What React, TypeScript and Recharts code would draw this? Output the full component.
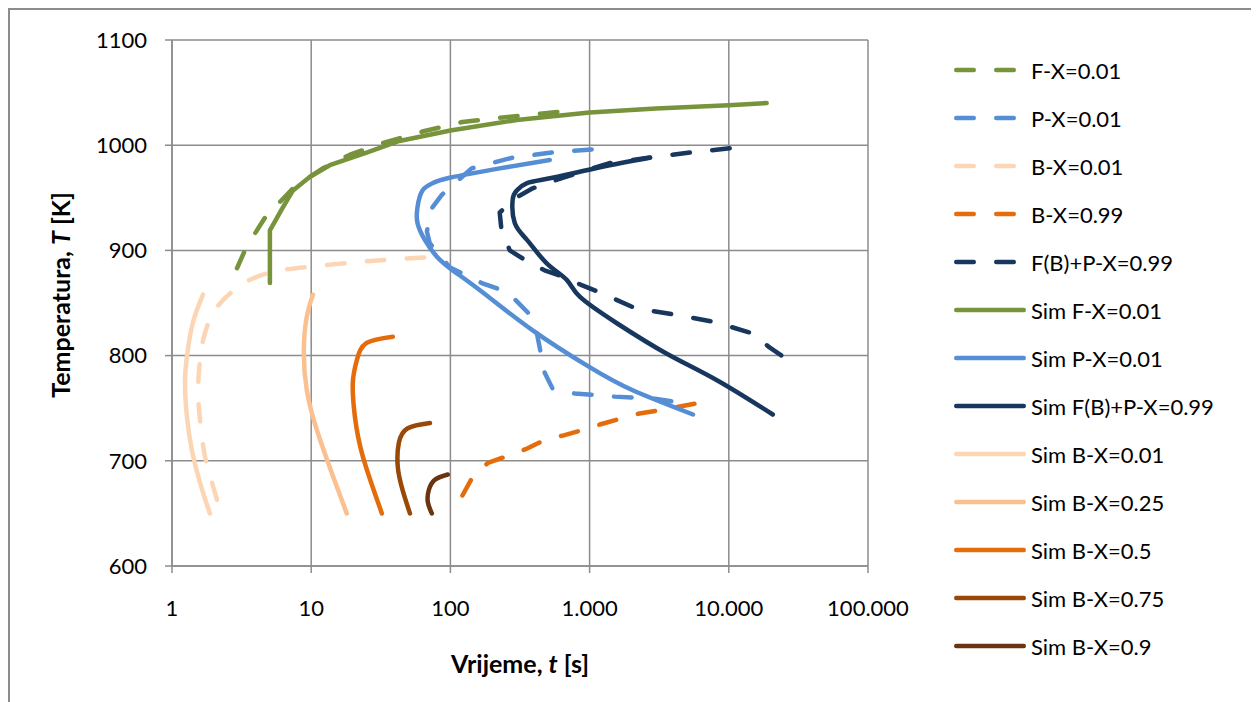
import React from 'react'
import { LineChart, Line, XAxis, YAxis, CartesianGrid, Legend, Label } from 'recharts'

// time ticks (s) and temperature ticks (K)
const xTicks = [1, 10, 100, 1000, 10000, 100000]
const yTicks = [600, 700, 800, 900, 1000, 1100]

// [t, T] pairs
const fX001: number[][] = [
  [2.93, 883], [3.34, 900], [3.94, 916], [4.65, 931], [5.96, 946], [7.4, 959], [12.1, 978],
  [19, 991], [32.6, 1002], [63, 1013], [122, 1022], [226, 1026], [440, 1030], [630, 1032],
]
const pX001: number[][] = [
  [1035, 996], [535, 993], [276, 988], [142, 978], [87, 953], [73.5, 940], [67.8, 918], [71, 907],
  [98.6, 884], [168, 869], [260, 860], [360, 841], [417, 822], [475, 784], [540, 769], [780, 764],
  [1510, 761], [2940, 759], [4090, 756],
]
const bX001: number[][] = [
  [2.1, 663], [1.94, 679], [1.72, 705], [1.59, 739], [1.54, 767], [1.59, 796], [1.72, 821],
  [2.03, 843], [2.61, 859], [3.63, 872], [5.48, 880], [9.0, 884], [18, 888], [34.8, 891], [81, 894],
]
const bX099: number[][] = [
  [122, 667], [145, 685], [186, 698], [250, 704], [347, 711], [462, 719], [642, 724], [877, 729],
  [1220, 735], [1650, 740], [2280, 745], [3170, 748], [6130, 755],
]
const fbpX099: number[][] = [
  [10140, 997], [5280, 993], [2630, 988], [1390, 983], [640, 969], [390, 959], [304, 951], [226, 936],
  [233, 919], [267, 900], [343, 891], [475, 881], [640, 875], [877, 867], [1190, 860], [2130, 845],
  [4100, 839], [7900, 832], [14900, 821], [19500, 808], [25200, 798],
]
const simF001: number[][] = [
  [5.05, 869], [5.05, 919], [6.2, 940], [7.4, 957], [9.8, 970], [13.6, 981], [25, 993], [43, 1004],
  [100, 1014], [300, 1024], [1000, 1031], [3000, 1035], [10000, 1038], [18700, 1040],
]
const simP001: number[][] = [
  [517, 986], [226, 978], [98.6, 969], [74.8, 964], [63, 957], [58, 941], [58, 926], [65.5, 910],
  [80, 894], [104, 881], [171, 860], [390, 824], [1000, 789], [2040, 767], [5530, 744],
]
const simFbp099: number[][] = [
  [2700, 988], [1190, 979], [540, 969], [355, 964], [300, 957], [280, 948], [290, 926], [355, 910],
  [490, 888], [685, 872], [850, 856], [1560, 831], [3560, 802], [8100, 777], [20700, 744],
]
const simB001: number[][] = [
  [1.67, 858], [1.41, 831], [1.28, 799], [1.24, 774], [1.28, 742], [1.39, 710], [1.59, 679], [1.87, 650],
]
const simB025: number[][] = [
  [10.3, 858], [9.3, 837], [8.85, 805], [9.3, 767], [11, 729], [14.1, 688], [18, 650],
]
const simB05: number[][] = [
  [38.6, 818], [25, 812], [21.3, 796], [19.9, 774], [20.6, 742], [23.5, 704], [32.2, 650],
]
const simB075: number[][] = [
  [71.3, 736], [49.4, 731], [42.6, 717], [41.9, 694], [45.4, 672], [51.2, 650],
]
const simB09: number[][] = [
  [95.8, 687], [77.3, 682], [69.9, 672], [68.8, 661], [73.5, 650],
]

const series = [
  { name: 'F-X=0.01', pts: fX001, color: '#77933C', dashed: true, curve: 'linear' },
  { name: 'P-X=0.01', pts: pX001, color: '#558ED5', dashed: true, curve: 'linear' },
  { name: 'B-X=0.01', pts: bX001, color: '#FCD5B5', dashed: true, curve: 'natural' },
  { name: 'B-X=0.99', pts: bX099, color: '#E46C0A', dashed: true, curve: 'linear' },
  { name: 'F(B)+P-X=0.99', pts: fbpX099, color: '#17375E', dashed: true, curve: 'linear' },
  { name: 'Sim F-X=0.01', pts: simF001, color: '#77933C', dashed: false, curve: 'linear' },
  { name: 'Sim P-X=0.01', pts: simP001, color: '#558ED5', dashed: false, curve: 'natural' },
  { name: 'Sim F(B)+P-X=0.99', pts: simFbp099, color: '#17375E', dashed: false, curve: 'natural' },
  { name: 'Sim B-X=0.01', pts: simB001, color: '#FCD5B5', dashed: false, curve: 'natural' },
  { name: 'Sim B-X=0.25', pts: simB025, color: '#FAC090', dashed: false, curve: 'natural' },
  { name: 'Sim B-X=0.5', pts: simB05, color: '#E46C0A', dashed: false, curve: 'natural' },
  { name: 'Sim B-X=0.75', pts: simB075, color: '#984807', dashed: false, curve: 'natural' },
  { name: 'Sim B-X=0.9', pts: simB09, color: '#6B3410', dashed: false, curve: 'natural' },
]

const FONT = 'Lato, "Open Sans", sans-serif'
const GRID = '#8c8c8c'
const SW = 4.5
const DASH = '17.5 22.5'

const fmtTime = (v: number) => String(v).replace(/\B(?=(\d{3})+(?!\d))/g, '.')

const renderLegend = () => (
  <div style={{ fontFamily: FONT, fontSize: 22, color: '#000' }}>
    {series.map((s) => (
      <div key={s.name} style={{ display: 'flex', alignItems: 'center', height: 48, whiteSpace: 'nowrap' }}>
        <svg width={77} height={10} style={{ flex: 'none' }}>
          <line
            x1={SW / 2}
            y1={5}
            x2={s.dashed ? 60.75 : 72 - SW / 2}
            y2={5}
            stroke={s.color}
            strokeWidth={SW}
            strokeLinecap="round"
            strokeDasharray={s.dashed ? DASH : undefined}
          />
        </svg>
        <span>{s.name}</span>
      </div>
    ))}
  </div>
)

const XTitle = (props: any) => {
  const vb = props.viewBox || {}
  return (
    <text x={vb.x + vb.width / 2} y={vb.y + 97} textAnchor="middle" dominantBaseline="central"
      fontFamily={FONT} fontSize={25} fontWeight="bold" fill="#000">
      Vrijeme, <tspan fontStyle="italic">t</tspan> [s]
    </text>
  )
}

const YTitle = (props: any) => {
  const vb = props.viewBox || {}
  const cx = vb.x + 50
  const cy = vb.y + vb.height / 2 - 8
  return (
    <text x={cx} y={cy} textAnchor="middle" dominantBaseline="central" transform={`rotate(-90 ${cx} ${cy})`}
      fontFamily={FONT} fontSize={25} fontWeight="bold" fill="#000">
      Temperatura, <tspan fontStyle="italic">T</tspan> [K]
    </text>
  )
}

export default function App() {
  return (
    <div style={{ width: 1245, height: 700, border: `2px solid ${GRID}`, background: '#fff' }}>
      <LineChart width={1245} height={700} margin={{ top: 30, right: 387, bottom: 84, left: 0 }}
        style={{ fontFamily: FONT }}>
        <CartesianGrid stroke={GRID} strokeWidth={1.5} />
        <XAxis
          type="number"
          dataKey="t"
          scale="log"
          domain={[1, 100000]}
          allowDataOverflow
          ticks={xTicks}
          tickFormatter={fmtTime}
          height={60}
          tickSize={7}
          tickMargin={27}
          stroke={GRID}
          strokeWidth={1.5}
          tick={{ fill: '#000', fontSize: 22, fontFamily: FONT }}
        >
          <Label content={XTitle} />
        </XAxis>
        <YAxis
          type="number"
          domain={[600, 1100]}
          ticks={yTicks}
          width={162}
          tickSize={7}
          tickMargin={18}
          stroke={GRID}
          strokeWidth={1.5}
          tick={{ fill: '#000', fontSize: 22, fontFamily: FONT }}
        >
          <Label content={YTitle} />
        </YAxis>
        <Legend
          layout="vertical"
          align="center"
          verticalAlign="middle"
          wrapperStyle={{ left: 944, top: 36, width: 300 }}
          content={renderLegend}
        />
        {series.map((s) => (
          <Line
            key={s.name}
            name={s.name}
            data={s.pts.map(([t, T]) => ({ t, T }))}
            dataKey="T"
            type={s.curve as any}
            stroke={s.color}
            strokeWidth={SW}
            strokeLinecap="round"
            strokeLinejoin="round"
            strokeDasharray={s.dashed ? DASH : undefined}
            dot={false}
            activeDot={false}
            isAnimationActive={false}
          />
        ))}
      </LineChart>
    </div>
  )
}
